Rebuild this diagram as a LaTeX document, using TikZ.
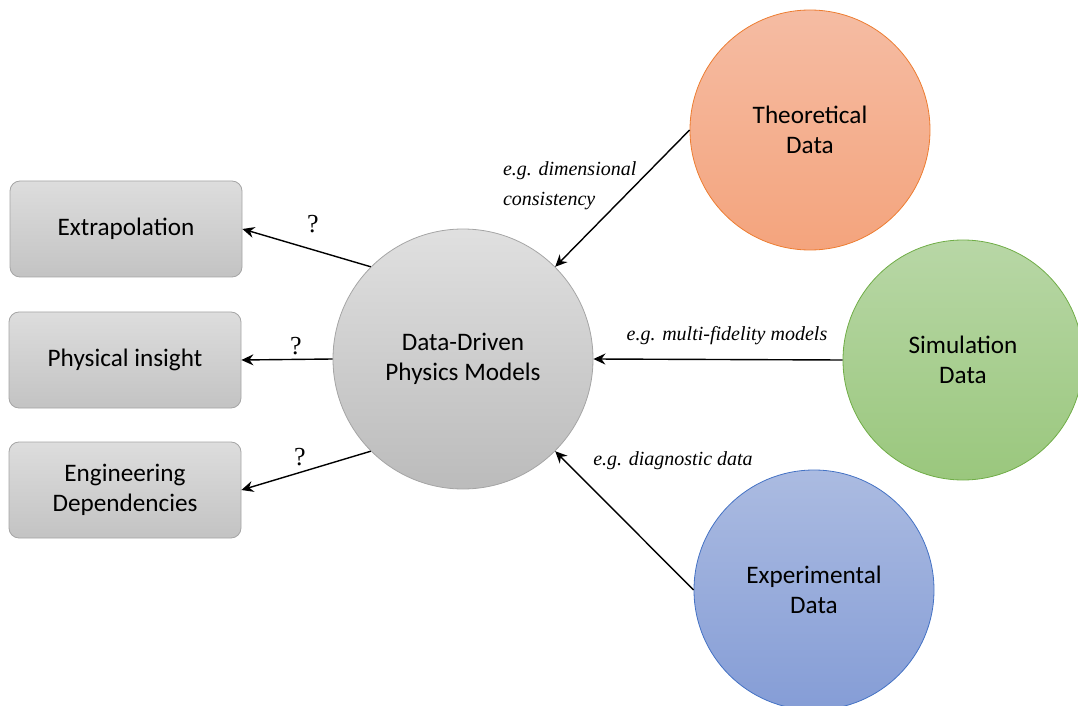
\documentclass[tikz,border=0pt]{standalone}
\usepackage{fontspec}
\setmainfont{Carlito}
\newfontfamily\egfont{Liberation Serif}
\usepackage{tikz}
\usetikzlibrary{arrows.meta}
\usetikzlibrary{positioning}

\definecolor{boxtop}{HTML}{DDDDDD}
\definecolor{boxbot}{HTML}{C3C3C3}
\definecolor{boxline}{HTML}{A5A5A5}
\definecolor{theotop}{HTML}{F5BCA3}
\definecolor{theobot}{HTML}{F4A47D}
\definecolor{theoline}{HTML}{ED7D31}
\definecolor{simtop}{HTML}{B8D7A6}
\definecolor{simbot}{HTML}{9AC77D}
\definecolor{simline}{HTML}{70AD47}
\definecolor{exptop}{HTML}{ABBBE1}
\definecolor{expbot}{HTML}{859DD6}
\definecolor{expline}{HTML}{4472C4}

\tikzset{
  outbox/.style={rectangle,rounded corners=5pt,draw=boxline,top color=boxtop,bottom color=boxbot,
    minimum width=116pt,minimum height=48pt,align=center,font=\fontsize{12.6}{15}\selectfont},
  datacirc/.style={circle,minimum size=120pt,inner sep=0pt,align=center,font=\fontsize{12.6}{15}\selectfont},
  arr/.style={-{Stealth[length=6pt,width=5.5pt,inset=2pt]},line width=0.7pt},
  eg/.style={font=\egfont\itshape\fontsize{10}{15}\selectfont},
  qmark/.style={font=\egfont\fontsize{13}{14}\selectfont}
}

\begin{document}
\begin{tikzpicture}[x=0.5pt,y=-0.5pt]
\useasboundingbox (0,0) rectangle (1078,706);
% outputs
\node at (126,229)[outbox](ext){Extrapolation};
\node at (125,360)[outbox](phy){Physical insight};
\node at (125,490)[outbox](eng){Engineering\\Dependencies};
% model
\node at (463,359)[datacirc,minimum size=130pt,draw=boxline,top color=boxtop!92!white,bottom color=boxbot!96!black](ddm){Data-Driven\\Physics Models};
% data sources
\node at (810,130)[datacirc,draw=theoline,top color=theotop,bottom color=theobot](theo){Theoretical\\Data};
\node at (963,360)[datacirc,draw=simline,top color=simtop,bottom color=simbot](sim){Simulation\\Data};
\node at (814,590)[datacirc,draw=expline,top color=exptop,bottom color=expbot](expm){Experimental\\Data};
% arrows in
\draw[arr] (theo.west) -- (ddm.45);
\draw[arr] (sim.west) -- (ddm.east);
\draw[arr] (expm.west) -- (ddm.-45);
% arrows out
\draw[arr] (ddm.135) -- (ext.east);
\draw[arr] (ddm.west) -- (phy.east);
\draw[arr] (ddm.-135) -- (eng.east);
% labels
\node at (313,224)[qmark](q1){?};
\node at (296,346)[qmark](q2){?};
\node at (300,457)[qmark](q3){?};
\node at (496,186)[eg,anchor=west,align=left](lbl1){e.g. dimensional\\consistency};
\node at (727,336)[eg](lbl2){e.g. multi-fidelity models};
\node at (673,461)[eg](lbl3){e.g. diagnostic data};
\end{tikzpicture}
\end{document}
